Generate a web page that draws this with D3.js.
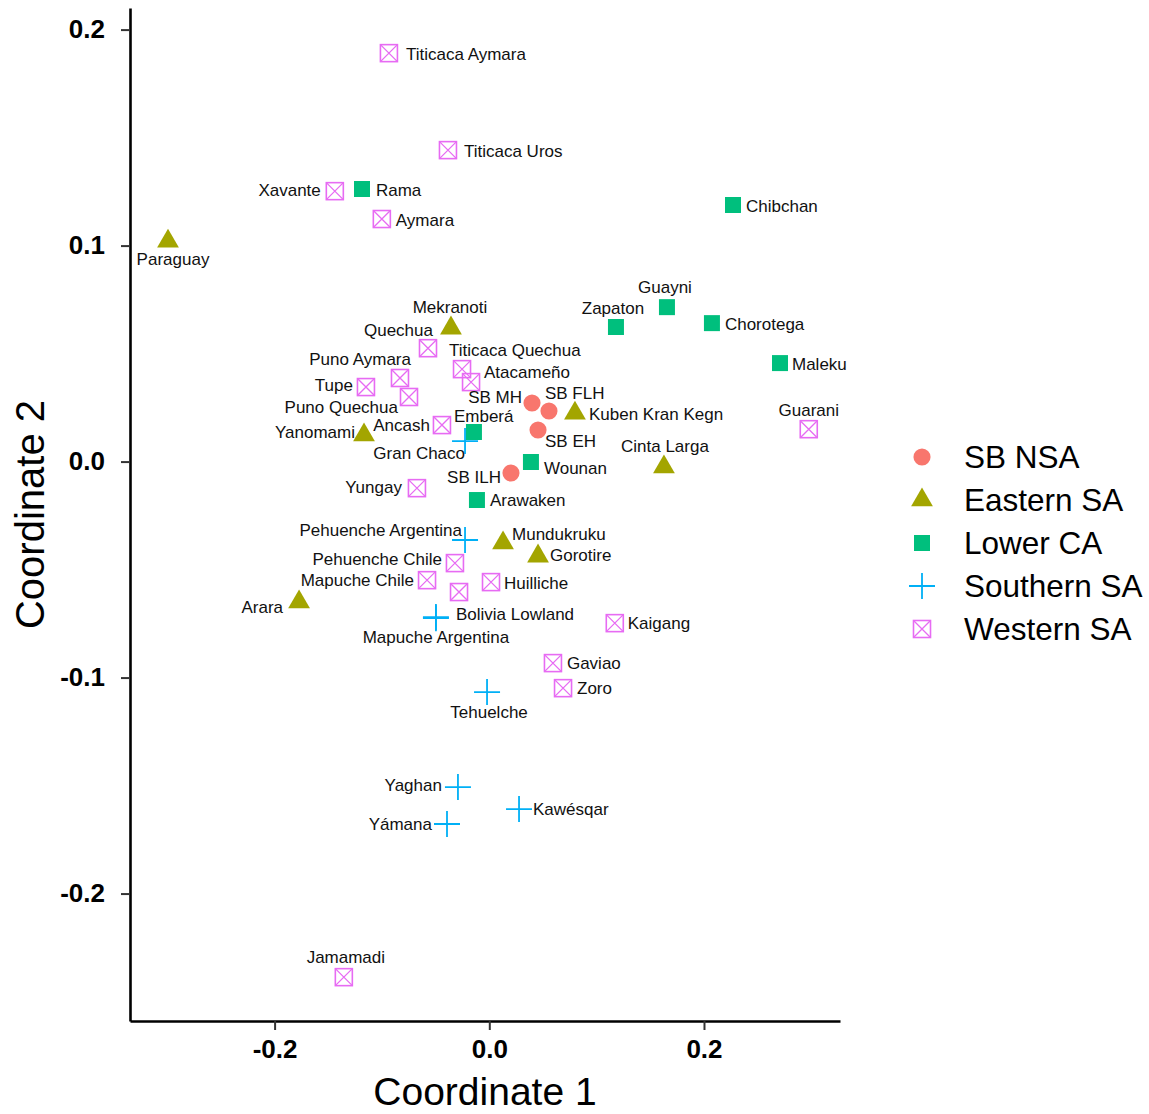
<!DOCTYPE html>
<html>
<head>
<meta charset="utf-8">
<script src="https://cdn.jsdelivr.net/npm/d3@7"></script>
<style>
  body { margin: 0; background: #fff; }
  svg  { display: block; font-family: 'Liberation Sans', Arial, sans-serif; }
</style>
</head>
<body>
<div id="graph"></div>
<script>

// The data...
var groupNames  = [ 'SB NSA', 'Eastern SA', 'Lower CA', 'Southern SA', 'Western SA' ];

var popNames = [
    'SB MH', 'SB FLH', 'SB EH', 'SB ILH',
    'Paraguay', 'Mekranoti', 'Yanomami', 'Kuben Kran Kegn', 'Cinta Larga', 'Mundukruku', 'Gorotire', 'Arara',
    'Rama', 'Chibchan', 'Guayni', 'Zapaton', 'Chorotega', 'Maleku', 'Emberá', 'Wounan', 'Arawaken',
    'Gran Chaco', 'Pehuenche Argentina', 'Bolivia Lowland', 'Mapuche Argentina', 'Tehuelche', 'Yaghan', 'Kawésqar', 'Yámana',
    'Titicaca Aymara', 'Titicaca Uros', 'Xavante', 'Aymara', 'Quechua', 'Puno Aymara', 'Tupe', 'Puno Quechua',
    'Ancash', 'Titicaca Quechua', 'Atacameño', 'Yungay', 'Guarani', 'Pehuenche Chile', 'Mapuche Chile', '',
    'Huilliche', 'Kaigang', 'Gaviao', 'Zoro', 'Jamamadi'
];

var popGroup = [
    0, 0, 0, 0,
    1, 1, 1, 1, 1, 1, 1, 1,
    2, 2, 2, 2, 2, 2, 2, 2, 2,
    3, 3, 3, 3, 3, 3, 3, 3,
    4, 4, 4, 4, 4, 4, 4, 4,
    4, 4, 4, 4, 4, 4, 4, 4,
    4, 4, 4, 4, 4
];

var coord1 = [
    0.0398, 0.0556, 0.0454, 0.0202,
    -0.2993, -0.0357, -0.1167, 0.0798, 0.1627, 0.0128, 0.0454, -0.1772,
    -0.1186, 0.2270, 0.1655, 0.1180, 0.2074, 0.2708, -0.0143, 0.0388, -0.0115,
    -0.0226, -0.0226, -0.0497, -0.0497, -0.0021, -0.0292, 0.0277, -0.0394,
    -0.0935, -0.0385, -0.1439, -0.1001, -0.0571, -0.0832, -0.1149, -0.0748,
    -0.0441, -0.0254, -0.0170, -0.0674, 0.2976, -0.0320, -0.0580, -0.0282,
    0.0016, 0.1169, 0.0593, 0.0687, -0.1355
];

var coord2 = [
    0.0271, 0.0234, 0.0146, -0.0053,
    0.1020, 0.0618, 0.0123, 0.0224, -0.0025, -0.0377, -0.0438, -0.0650,
    0.1262, 0.1188, 0.0715, 0.0623, 0.0641, 0.0456, 0.0137, -0.0002, -0.0178,
    0.0095, -0.0363, -0.0720, -0.0725, -0.1067, -0.1507, -0.1609, -0.1678,
    0.1891, 0.1442, 0.1252, 0.1123, 0.0525, 0.0387, 0.0345, 0.0299,
    0.0169, 0.0428, 0.0368, -0.0123, 0.0150, -0.0470, -0.0549, -0.0604,
    -0.0558, -0.0748, -0.0933, -0.1049, -0.2387
];

var xTicks = [ -0.2, 0.0, 0.2 ];
var yTicks = [ -0.2, -0.1, 0.0, 0.1, 0.2 ];

var xTitle = 'Coordinate 1';
var yTitle = 'Coordinate 2';

// ggplot style hues
var colours = [ '#F8766D', '#A3A500', '#00BF7D', '#00B0F6', '#E76BF3' ];

// where each text label sits relative to its point (anchor, dx, dy)
var labelPlace = {
    'SB MH':               [ 'end',    -10,  -6 ],
    'SB FLH':              [ 'start',   -4, -18 ],
    'SB EH':               [ 'start',    7,  11 ],
    'SB ILH':              [ 'end',    -10,   4 ],
    'Paraguay':            [ 'middle',   5,  18 ],
    'Mekranoti':           [ 'middle',  -1, -21 ],
    'Yanomami':            [ 'end',     -9,  -3 ],
    'Kuben Kran Kegn':     [ 'start',   14,   1 ],
    'Cinta Larga':         [ 'middle',   1, -21 ],
    'Mundukruku':          [ 'start',    9,  -9 ],
    'Gorotire':            [ 'start',   12,  -1 ],
    'Arara':               [ 'end',    -16,   5 ],
    'Rama':                [ 'start',   14,   1 ],
    'Chibchan':            [ 'start',   13,   1 ],
    'Guayni':              [ 'middle',  -2, -20 ],
    'Zapaton':             [ 'middle',  -3, -19 ],
    'Chorotega':           [ 'start',   13,   1 ],
    'Maleku':              [ 'start',   12,   1 ],
    'Emberá':              [ 'start',  -20, -16 ],
    'Wounan':              [ 'start',   13,   6 ],
    'Arawaken':            [ 'start',   13,   0 ],
    'Gran Chaco':          [ 'end',      0,  12 ],
    'Pehuenche Argentina': [ 'end',     -3, -10 ],
    'Bolivia Lowland':     [ 'start',   20,  -3 ],
    'Mapuche Argentina':   [ 'middle',   0,  19 ],
    'Tehuelche':           [ 'middle',   2,  20 ],
    'Yaghan':              [ 'end',    -16,  -2 ],
    'Kawésqar':            [ 'start',   14,   0 ],
    'Yámana':              [ 'end',    -15,   0 ],
    'Titicaca Aymara':     [ 'start',   17,   1 ],
    'Titicaca Uros':       [ 'start',   16,   1 ],
    'Xavante':             [ 'end',    -14,  -1 ],
    'Aymara':              [ 'start',   14,   1 ],
    'Quechua':             [ 'end',      5, -18 ],
    'Puno Aymara':         [ 'end',     11, -19 ],
    'Tupe':                [ 'end',    -13,  -2 ],
    'Puno Quechua':        [ 'end',    -11,  10 ],
    'Ancash':              [ 'end',    -12,   0 ],
    'Titicaca Quechua':    [ 'start',  -13, -19 ],
    'Atacameño':           [ 'start',   13, -10 ],
    'Yungay':              [ 'end',    -15,  -1 ],
    'Guarani':             [ 'middle',   0, -19 ],
    'Pehuenche Chile':     [ 'end',    -13,  -4 ],
    'Mapuche Chile':       [ 'end',    -13,   0 ],
    'Huilliche':           [ 'start',   13,   1 ],
    'Kaigang':             [ 'start',   13,   0 ],
    'Gaviao':              [ 'start',   14,   0 ],
    'Zoro':                [ 'start',   14,   0 ],
    'Jamamadi':            [ 'middle',   2, -20 ]
};


//
// Chart geometry
//
var W = 1149, H = 1114;
var plotLeft = 130, plotRight = 840, plotTop = 8, plotBottom = 1021;

var svg = d3.select ('#graph').append ('svg')
            .attr ('width', W)
            .attr ('height', H);

var xScale = d3.scaleLinear ()
               .domain ( [ -0.3347, 0.3267 ] )
               .range ( [ plotLeft, plotRight ] );

var yScale = d3.scaleLinear ()
               .domain ( [ -0.259, 0.21 ] )
               .range ( [ plotBottom, plotTop ] );

var fmt = function (d) { return d.toFixed (1); };

var xAxis = d3.axisBottom (xScale)
              .tickValues (xTicks)
              .tickFormat (fmt)
              .tickSize (9)
              .tickSizeOuter (0)
              .tickPadding (10);

var yAxis = d3.axisLeft (yScale)
              .tickValues (yTicks)
              .tickFormat (fmt)
              .tickSize (9)
              .tickSizeOuter (0)
              .tickPadding (16);

var gx = svg.append ('g')
            .attr ('transform', 'translate(0,' + plotBottom + ')')
            .call (xAxis);

var gy = svg.append ('g')
            .attr ('transform', 'translate(' + plotLeft + ',0)')
            .call (yAxis);

[ gx, gy ].forEach (function (g)
{
    g.select ('.domain')
     .attr ('stroke', '#000')
     .attr ('stroke-width', 2.6);

    g.selectAll ('.tick line')
     .attr ('stroke', '#333')
     .attr ('stroke-width', 2);

    g.selectAll ('.tick text')
     .attr ('fill', '#000')
     .style ('font-family', "'Liberation Sans', Arial, sans-serif")
     .style ('font-size', '26px')
     .style ('font-weight', 'bold');
});

// axis titles
svg.append ('text')
   .attr ('x', (plotLeft + plotRight) / 2)
   .attr ('y', 1105)
   .attr ('text-anchor', 'middle')
   .style ('font-size', '39px')
   .attr ('fill', '#000')
   .text (xTitle);

svg.append ('text')
   .attr ('transform', 'translate(44,' + ((plotTop + plotBottom) / 2) + ') rotate(-90)')
   .attr ('text-anchor', 'middle')
   .style ('font-size', '40px')
   .attr ('fill', '#000')
   .text (yTitle);


//
// Marker drawing, one shape per group
//
function drawMarker (sel, grp, px, py, scale)
{
    var c = colours[grp];
    var k = scale || 1;

    if (grp == 0)
        sel.append ('path')
           .attr ('d', d3.symbol ().type (d3.symbolCircle).size (230 * k * k) ())
           .attr ('transform', 'translate(' + px + ',' + py + ')')
           .attr ('fill', c);
    else if (grp == 1)
        sel.append ('path')
           .attr ('d', d3.symbol ().type (d3.symbolTriangle).size (205 * k * k) ())
           .attr ('transform', 'translate(' + px + ',' + py + ')')
           .attr ('fill', c);
    else if (grp == 2)
        sel.append ('path')
           .attr ('d', d3.symbol ().type (d3.symbolSquare).size (256 * k * k) ())
           .attr ('transform', 'translate(' + px + ',' + py + ')')
           .attr ('fill', c);
    else if (grp == 3)
    {
        var h = 13 * k;
        sel.append ('path')
           .attr ('d', 'M' + (px - h) + ',' + py + 'H' + (px + h) + 'M' + px + ',' + (py - h) + 'V' + (py + h))
           .attr ('stroke', c)
           .attr ('stroke-width', 1.8)
           .attr ('fill', 'none');
    }
    else
    {
        var s = 8.5 * k;
        sel.append ('rect')
           .attr ('x', px - s).attr ('y', py - s)
           .attr ('width', 2 * s).attr ('height', 2 * s)
           .attr ('stroke', c)
           .attr ('stroke-width', 1.6)
           .attr ('fill', 'none');
        sel.append ('path')
           .attr ('d', 'M' + (px - s) + ',' + (py - s) + 'L' + (px + s) + ',' + (py + s) +
                       'M' + (px + s) + ',' + (py - s) + 'L' + (px - s) + ',' + (py + s))
           .attr ('stroke', c)
           .attr ('stroke-width', 1.3)
           .attr ('fill', 'none');
    }
}

var pts = svg.append ('g');

for (var i = 0; i < popNames.length; i++)
    drawMarker (pts, popGroup[i], xScale (coord1[i]), yScale (coord2[i]));

// labels
var labels = svg.append ('g')
                .style ('font-size', '17px')
                .attr ('fill', '#111');

for (var i = 0; i < popNames.length; i++)
{
    if (popNames[i] == '') continue;

    var p = labelPlace[popNames[i]] || [ 'start', 12, 0 ];

    labels.append ('text')
          .attr ('x', xScale (coord1[i]) + p[1])
          .attr ('y', yScale (coord2[i]) + p[2])
          .attr ('dy', '0.35em')
          .attr ('text-anchor', p[0])
          .text (popNames[i]);
}


//
// Legend
//
var legend = svg.append ('g');

for (var g = 0; g < groupNames.length; g++)
{
    var ly = 457 + g * 43;
    drawMarker (legend, g, 922, ly, 1);

    legend.append ('text')
          .attr ('x', 964)
          .attr ('y', ly)
          .attr ('dy', '0.35em')
          .style ('font-size', '31.5px')
          .attr ('fill', '#000')
          .text (groupNames[g]);
}

</script>
</body>
</html>
